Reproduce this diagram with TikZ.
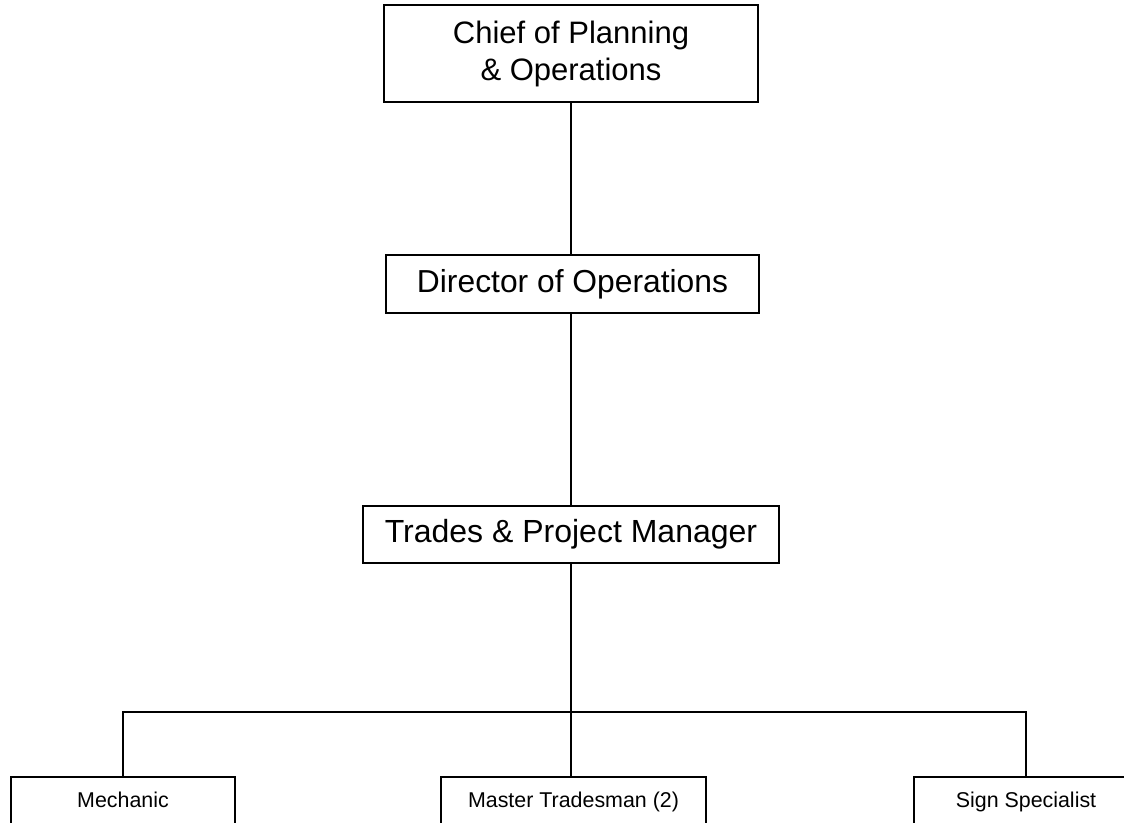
\documentclass[tikz,border=0pt]{standalone}
\usepackage{fontspec}
\setmainfont{Liberation Sans}
\begin{document}
\begin{tikzpicture}[x=1pt,y=-1pt,
  bigbox/.style={draw,line width=1.7pt,inner sep=0pt,align=center,font=\fontsize{31}{37}\selectfont},
  smallbox/.style={draw,line width=1.7pt,inner xsep=0pt,inner ysep=0pt,anchor=north,minimum width=224pt,
     text height=31pt,text depth=45pt,font=\fontsize{21.4}{25}\selectfont},
  conn/.style={line width=1.7pt}]
\useasboundingbox (0,0) rectangle (1124,822);
\clip (0,0) rectangle (1124,822);
\node[bigbox,minimum width=374pt,minimum height=97pt] (chief) at (571,53.5) {Chief of Planning\\\& Operations};
\node[bigbox,minimum width=373pt,minimum height=58pt,font=\fontsize{31.8}{37}\selectfont] (dir) at (572.5,284) {Director of Operations};
\node[bigbox,minimum width=416pt,minimum height=57pt,font=\fontsize{32}{37}\selectfont] (trades) at (571,534.5) {Trades \& Project Manager};
\node[smallbox] (mech) at (123,776) {Mechanic};
\node[smallbox,minimum width=265pt] (master) at (573.5,776) {Master Tradesman (2)};
\node[smallbox] (sign) at (1026,776) {Sign Specialist};
\coordinate (bus) at (571,712);
\draw[conn] (chief.south) -- (chief.south |- dir.north);
\draw[conn] (dir.south -| chief.south) -- (trades.north -| chief.south);
\draw[conn] (trades.south) -- (bus);
\draw[conn] (mech.north) |- (bus) -| (sign.north);
\draw[conn] (bus) -- (bus |- master.north);
\end{tikzpicture}
\end{document}
